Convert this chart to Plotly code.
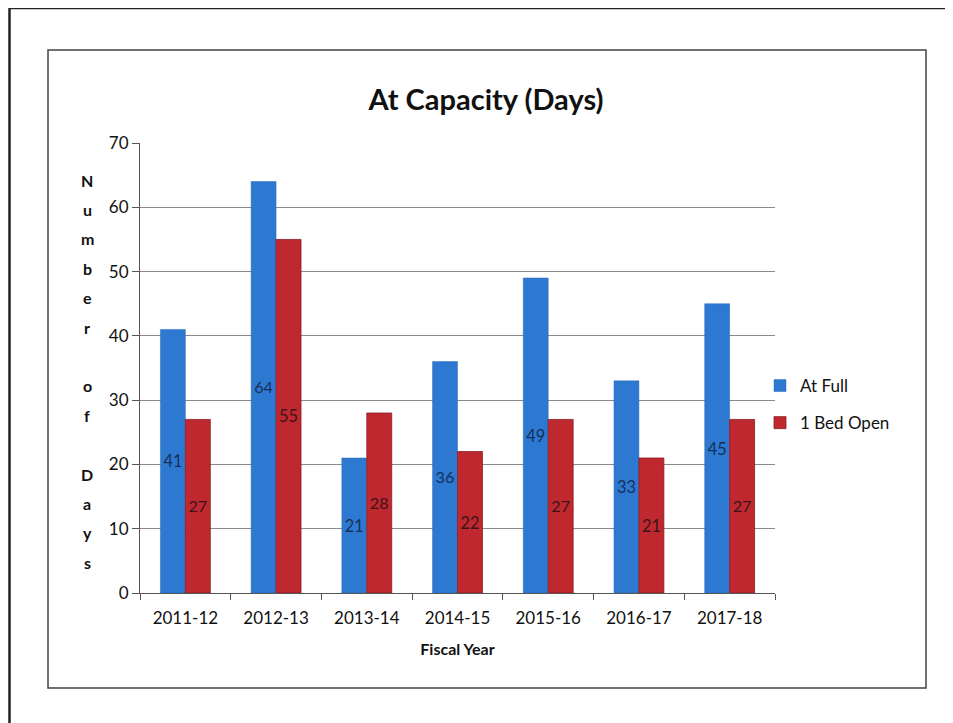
import plotly.graph_objects as go

anos = ["2011-12", "2012-13", "2013-14", "2014-15", "2015-16", "2016-17", "2017-18"]
at_full = [41, 64, 21, 36, 49, 33, 45]
bed_open = [27, 55, 28, 22, 27, 21, 27]

AZUL = "#2d78d0"
VERMELHO = "#c0282f"
FONTE = "Lato"

# page has an 8px body margin; work in screen pixels and convert
OFF = 8
W, H = 953 - OFF, 723 - OFF
# plot area in screen pixels
X0, X1, Y0, Y1 = 140, 775, 143, 593
L, R, T, B = X0 - OFF, W - (X1 - OFF), Y0 - OFF, H - (Y1 - OFF)
PW, PH = X1 - X0, Y1 - Y0


def px_x(x):
    return (x - X0) / PW


def px_y(y):
    return (Y1 - y) / PH


fig = go.Figure()
fig.add_trace(go.Bar(
    x=anos, y=at_full, name="At Full", legendgroup="full",
    marker=dict(color=AZUL, line=dict(color="#2a6ab8", width=0.5)),
    text=at_full, textposition="inside", insidetextanchor="middle",
    textfont=dict(family=FONTE, size=17, color="#16305a"),
    textangle=0,
))
fig.add_trace(go.Bar(
    x=anos, y=bed_open, name="1 Bed Open", legendgroup="open",
    marker=dict(color=VERMELHO, line=dict(color="#8a1c22", width=0.8)),
    text=bed_open, textposition="inside", insidetextanchor="middle",
    textfont=dict(family=FONTE, size=17, color="#3a1418"),
    textangle=0,
))

fig.update_layout(
    width=W, height=H,
    margin=dict(l=L, r=R, t=T, b=B),
    paper_bgcolor="white", plot_bgcolor="white",
    barmode="group", bargap=0.45, bargroupgap=0,
    font=dict(family=FONTE, size=16, color="#222"),
    title=dict(text="<b>At Capacity (Days)</b>", x=(486 - OFF) / W, xanchor="center",
               y=1 - (100 - OFF) / H, yanchor="middle",
               font=dict(family=FONTE, size=29, color="#111")),
    showlegend=True,
    legend=dict(x=px_x(760), y=px_y(368), xanchor="left", yanchor="top",
                font=dict(family=FONTE, size=17, color="#111"),
                tracegroupgap=12, itemwidth=30, bgcolor="rgba(0,0,0,0)"),
    xaxis=dict(
        type="category",
        showline=True, linecolor="#555", linewidth=1,
        ticks="outside", tickson="boundaries", ticklen=6, tickcolor="#555",
        ticklabelstandoff=10,
        tickfont=dict(family=FONTE, size=17, color="#111"),
        title=dict(text="<b>Fiscal Year</b>", standoff=16,
                   font=dict(family=FONTE, size=16, color="#111")),
    ),
    yaxis=dict(
        range=[0, 70], dtick=10,
        showline=True, linecolor="#555", linewidth=1,
        ticks="outside", ticklen=7, tickcolor="#555",
        showgrid=True, gridcolor="#8a8a8a", gridwidth=1,
        tickfont=dict(family=FONTE, size=17, color="#111"),
        zeroline=False,
    ),
)

# y axis title: letters stacked vertically
letras = list("Number of Days")
y_ini, passo = 180, 29.4
for i, ch in enumerate(letras):
    if ch == " ":
        continue
    fig.add_annotation(
        text=f"<b>{ch}</b>", xref="paper", yref="paper",
        x=px_x(87), y=px_y(y_ini + i * passo), xanchor="center", yanchor="middle",
        showarrow=False, font=dict(family=FONTE, size=16, color="#111"),
    )

# inner chart border
fig.add_shape(type="rect", xref="paper", yref="paper",
              x0=px_x(48), x1=px_x(926), y0=px_y(688), y1=px_y(50),
              line=dict(color="#444", width=1.5), layer="below")
# outer page frame
fig.add_shape(type="rect", xref="paper", yref="paper",
              x0=px_x(9.5), x1=px_x(965), y0=px_y(740), y1=px_y(8),
              line=dict(color="#222", width=2.5), layer="below")

fig.write_html("out.html")
